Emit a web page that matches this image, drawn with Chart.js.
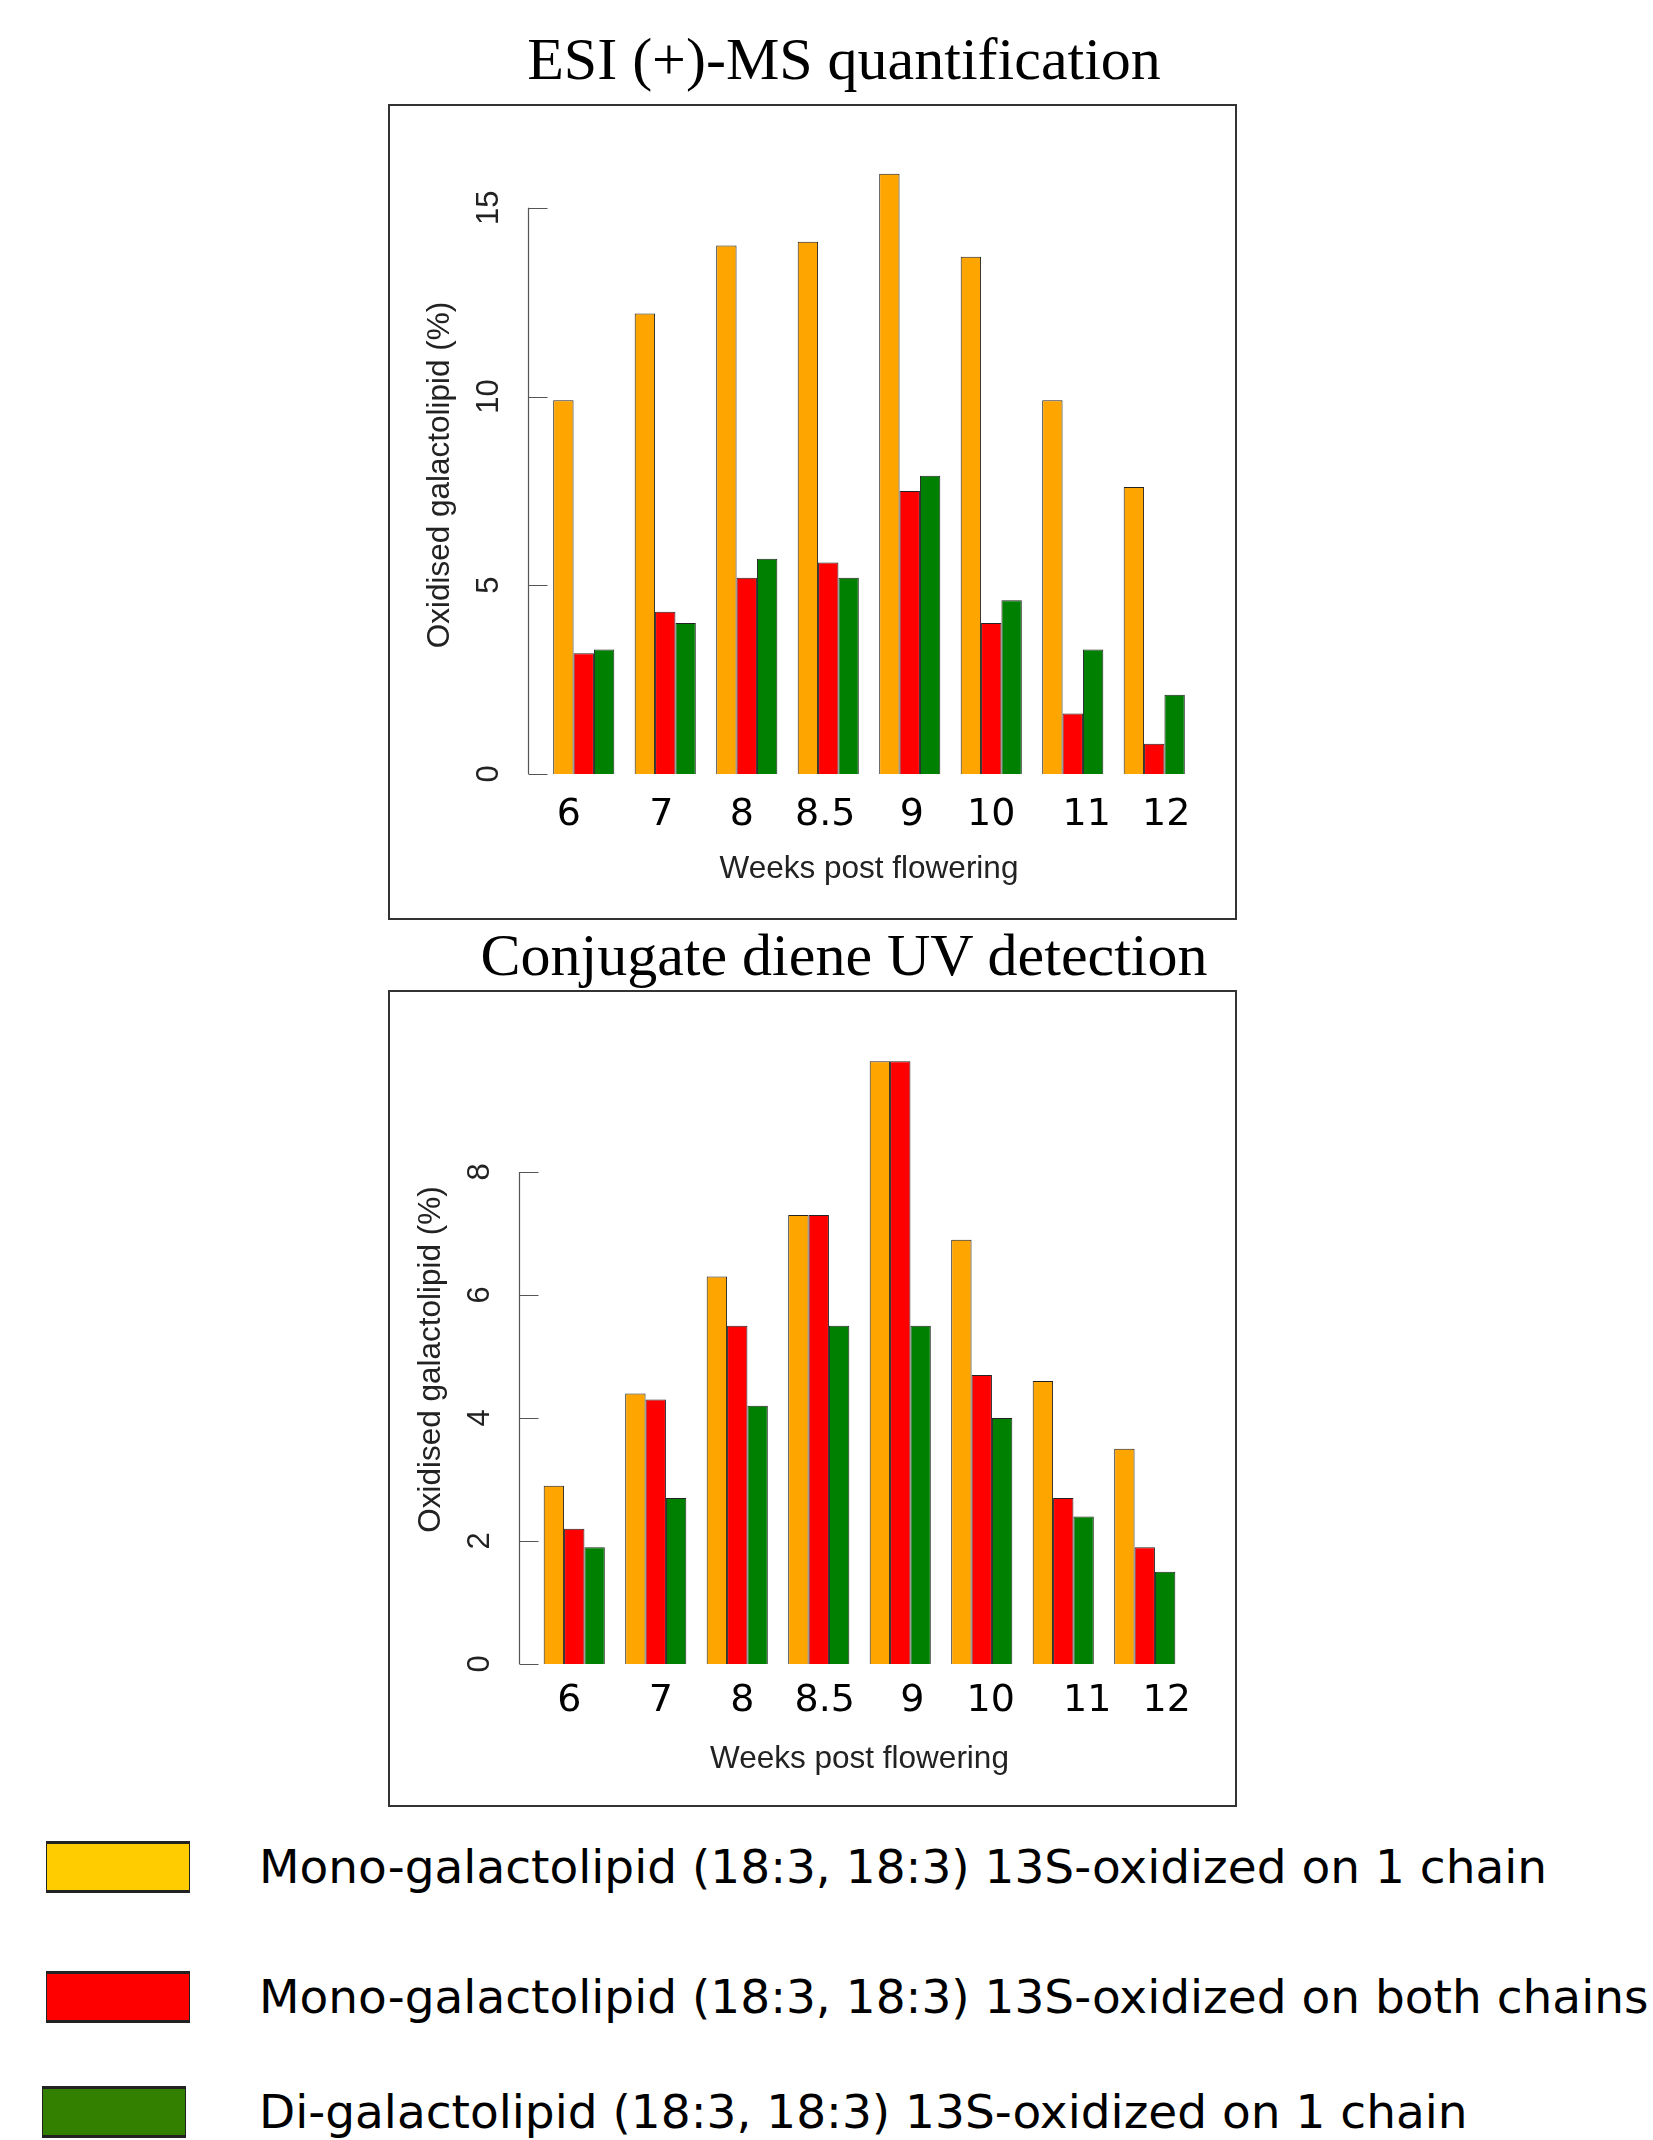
<!DOCTYPE html>
<html>
<head>
<meta charset="utf-8">
<script src="https://cdn.jsdelivr.net/npm/chart.js@4.4.1/dist/chart.umd.min.js"></script>
<style>
  body { margin: 0; background: #fff; width: 1653px; height: 2140px; position: relative; overflow: hidden; }
  .title { position: absolute; left: 388px; width: 912px; text-align: center; font-family: "Liberation Serif", serif; font-size: 60px; line-height: 60px; color: #000; white-space: nowrap; }
  .frame { position: absolute; left: 388px; width: 849px; box-sizing: border-box; border: 2px solid #333; }
  .legend-row { position: absolute; left: 0; width: 1653px; height: 52px; }
  .swatch { position: absolute; top: 0; width: 144px; height: 52px; box-sizing: border-box; border: 3px solid #222; border-left-width: 1px; border-right-width: 1px; }
  .legend-text { position: absolute; left: 259px; top: 0; line-height: 52px; font-family: "DejaVu Sans", sans-serif; font-size: 47px; color: #000; white-space: nowrap; }
</style>
</head>
<body>

<div class="title" style="top:29px;">ESI (+)-MS quantification</div>
<div class="frame" style="top:104px; height:816px;"><canvas id="esi-chart"></canvas></div>

<div class="title" style="top:925px;">Conjugate diene UV detection</div>
<div class="frame" style="top:990px; height:817px;"><canvas id="uv-chart"></canvas></div>

<div id="legend"></div>

<script>
// weeks post flowering
var weeks = ['6', '7', '8', '8.5', '9', '10', '11', '12'];

// ESI (+)-MS quantification
var esiMonoOne = [9.9, 12.2, 14.0, 14.1, 15.9, 13.7, 9.9, 7.6];
var esiMonoBoth = [3.2, 4.3, 5.2, 5.6, 7.5, 4.0, 1.6, 0.8];
var esiDiOne = [3.3, 4.0, 5.7, 5.2, 7.9, 4.6, 3.3, 2.1];
var esiTicks = [0, 5, 10, 15];

// Conjugate diene UV detection
var uvMonoOne = [2.9, 4.4, 6.3, 7.3, 9.8, 6.9, 4.6, 3.5];
var uvMonoBoth = [2.2, 4.3, 5.5, 7.3, 9.8, 4.7, 2.7, 1.9];
var uvDiOne = [1.9, 2.7, 4.2, 5.5, 5.5, 4.0, 2.4, 1.5];
var uvTicks = [0, 2, 4, 6, 8];

var seriesNames = [
  'Mono-galactolipid (18:3, 18:3) 13S-oxidized on 1 chain',
  'Mono-galactolipid (18:3, 18:3) 13S-oxidized on both chains',
  'Di-galactolipid (18:3, 18:3) 13S-oxidized on 1 chain'
];
var barColors = ['#FFA500', '#FF0000', '#008000'];
var legendColors = ['#FFCC00', '#FF0000', '#337F00'];

// the week numbers were placed by hand in the original, a bit off the bar groups
var esiLabelShift = [-15, -4, -5, -3, 2, 0, 14, 12];
var uvLabelShift = [-5, 5, 5, 6, 12, 9, 24, 22];

// R style axes: y axis line only between first and last tick, rotated labels
var rAxes = {
  id: 'rAxes',
  afterDraw: function(chart, args, opts) {
    var ctx = chart.ctx;
    var area = chart.chartArea;
    var x = chart.scales.x;
    var y = chart.scales.y;
    var ticks = opts.yTicks;
    var axisX = Math.round(area.left - 15) + 0.5;

    ctx.save();
    ctx.strokeStyle = '#555';
    ctx.lineWidth = 1.2;
    ctx.beginPath();
    ctx.moveTo(axisX, y.getPixelForValue(ticks[0]));
    ctx.lineTo(axisX, y.getPixelForValue(ticks[ticks.length - 1]));
    ticks.forEach(function(t) {
      var py = Math.round(y.getPixelForValue(t)) + 0.5;
      ctx.moveTo(axisX, py);
      ctx.lineTo(axisX + 19, py);
    });
    ctx.stroke();

    ctx.fillStyle = '#222';
    ctx.font = '31px "Liberation Sans", Arial, sans-serif';
    ctx.textAlign = 'center';
    ctx.textBaseline = 'middle';
    ticks.forEach(function(t) {
      ctx.save();
      ctx.translate(axisX - 39, y.getPixelForValue(t));
      ctx.rotate(-Math.PI / 2);
      ctx.fillText(String(t), 0, 0);
      ctx.restore();
    });

    // y title
    ctx.font = '31.5px "Liberation Sans", Arial, sans-serif';
    ctx.save();
    ctx.translate(axisX - 88, (area.top + area.bottom) / 2 + 3);
    ctx.rotate(-Math.PI / 2);
    ctx.fillText(opts.yTitle, 0, 0);
    ctx.restore();

    // x title
    ctx.fillText(opts.xTitle, (area.left + area.right) / 2, area.bottom + 95);

    // week labels
    ctx.fillStyle = '#000';
    ctx.font = '38px "DejaVu Sans", sans-serif';
    chart.data.labels.forEach(function(lbl, i) {
      ctx.fillText(lbl, x.getPixelForValue(i) + opts.labelShift[i], area.bottom + opts.labelDrop);
    });
    ctx.restore();
  }
};

function makeChart(id, series, yMax, yTicks, labelShift, labelDrop, pad) {
  var ctx = document.getElementById(id).getContext('2d');
  return new Chart(ctx, {
    type: 'bar',
    data: {
      labels: weeks,
      datasets: series.map(function(values, i) {
        return {
          label: seriesNames[i],
          data: values,
          backgroundColor: barColors[i],
          borderColor: '#222',
          borderWidth: 1,
          categoryPercentage: 0.75,
          barPercentage: 1.0
        };
      })
    },
    options: {
      responsive: true,
      maintainAspectRatio: false,
      animation: false,
      layout: { padding: pad },
      scales: {
        x: { display: false },
        y: { display: false, min: 0, max: yMax }
      },
      plugins: {
        legend: { display: false },
        tooltip: { enabled: false },
        rAxes: {
          yTicks: yTicks,
          labelShift: labelShift,
          labelDrop: labelDrop,
          xTitle: 'Weeks post flowering',
          yTitle: 'Oxidised galactolipid (%)'
        }
      }
    },
    plugins: [rAxes]
  });
}

makeChart('esi-chart', [esiMonoOne, esiMonoBoth, esiDiOne], 16, esiTicks, esiLabelShift, 41,
  { left: 153, right: 40, top: 64, bottom: 144 });
makeChart('uv-chart', [uvMonoOne, uvMonoBoth, uvDiOne], 10, uvTicks, uvLabelShift, 37,
  { left: 143.5, right: 49.5, top: 57, bottom: 141 });

// legend below both charts
var legendTops = [1841, 1971, 2086];
var swatchLefts = [46, 46, 42];
var legend = document.getElementById('legend');
seriesNames.forEach(function(name, i) {
  var row = document.createElement('div');
  row.className = 'legend-row';
  row.style.top = legendTops[i] + 'px';
  row.innerHTML = '<div class="swatch" style="left:' + swatchLefts[i] + 'px;background:' + legendColors[i] + '"></div>' +
    '<div class="legend-text">' + name + '</div>';
  legend.appendChild(row);
});
</script>
</body>
</html>
